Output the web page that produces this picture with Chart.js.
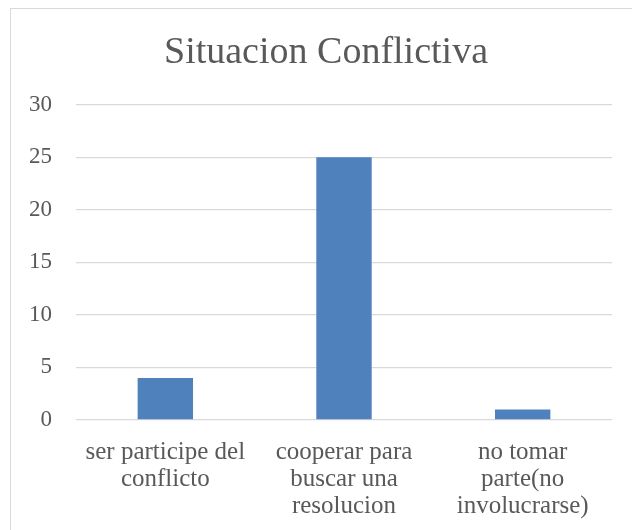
<!DOCTYPE html>
<html>
<head>
<meta charset="utf-8">
<script src="https://cdn.jsdelivr.net/npm/chart.js@4/dist/chart.umd.min.js"></script>
<style>
    html, body { margin: 0; padding: 0; background: #ffffff; }
    #wrap { position: relative; width: 632px; height: 530px; overflow: hidden; }
    #frame { position: absolute; left: 10px; top: 8px; width: 660px; height: 560px; border: 1px solid #d9d9d9; }
    canvas { position: absolute; left: 0; top: 0; }
</style>
</head>
<body>
<div id="wrap">
    <div id="frame"></div>
    <canvas id="chart" width="632" height="530"></canvas>
</div>
<script>
// Datos del gráfico
const categories = [
    ['ser participe del', 'conflicto'],
    ['cooperar para', 'buscar una', 'resolucion'],
    ['no tomar', 'parte(no', 'involucrarse)']
];
const values = [4, 25, 1];
const yTicks = [0, 5, 10, 15, 20, 25, 30];
const chartTitle = 'Situacion Conflictiva';

const FONT = "'Liberation Serif', 'DejaVu Serif', serif";
const TEXT = '#595959';
const GRID = '#d9d9d9';

new Chart(document.getElementById('chart'), {
    type: 'bar',
    data: {
        labels: categories,
        datasets: [{
            data: values,
            backgroundColor: '#4f81bd',
            borderWidth: 0,
            categoryPercentage: 1,
            barPercentage: 0.31
        }]
    },
    options: {
        responsive: false,
        animation: false,
        layout: { padding: { left: 20, right: 0, top: 0, bottom: 0 } },
        plugins: {
            legend: { display: false },
            tooltip: { enabled: false },
            title: {
                display: true,
                text: chartTitle,
                color: TEXT,
                font: { family: FONT, size: 38, weight: 'normal' },
                padding: { top: 30, bottom: 29 }
            }
        },
        scales: {
            x: {
                grid: { display: false },
                border: { display: false },
                ticks: {
                    color: TEXT,
                    font: { family: FONT, size: 25, lineHeight: 1.08 },
                    padding: 11,
                    maxRotation: 0,
                    autoSkip: false
                },
                afterFit: (s) => { s.height = 110; }
            },
            y: {
                min: 0,
                max: 30,
                afterBuildTicks: (s) => { s.ticks = yTicks.map(v => ({ value: v })); },
                grid: { color: GRID, lineWidth: 1.3, drawTicks: false },
                border: { display: false },
                ticks: {
                    color: TEXT,
                    font: { family: FONT, size: 23 },
                    padding: 24
                },
                afterFit: (s) => { s.width = 56; }
            },
            // eje vacío a la derecha, solo para dejar el margen del marco
            y2: {
                position: 'right',
                display: true,
                grid: { display: false },
                border: { display: false },
                ticks: { display: false },
                afterFit: (s) => { s.width = 20; }
            }
        }
    }
});
</script>
</body>
</html>
